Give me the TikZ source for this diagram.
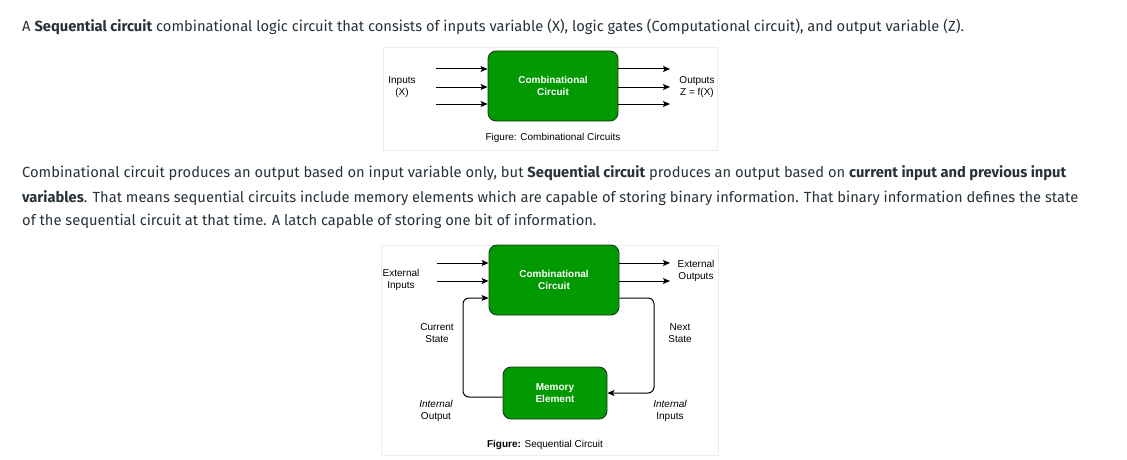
\documentclass[tikz,border=0pt]{standalone}
\usepackage{fontspec}
\setmainfont{Fira Sans}
\newfontfamily\diagfont{Liberation Sans}
\usetikzlibrary{arrows.meta,positioning}

\definecolor{pagetext}{HTML}{273239}
\definecolor{gatefill}{HTML}{009900}
\definecolor{gateline}{HTML}{1E3A1E}

\begin{document}
\begin{tikzpicture}[x=1pt,y=-1pt,>={Stealth[length=7pt,width=6pt,inset=1.5pt]},
  para/.style={anchor=west,inner sep=0pt,text=pagetext,font=\fontsize{14.7}{17}\selectfont},
  gate/.style={draw=gateline,fill=gatefill,rounded corners=8pt,line width=0.9pt,text=white,align=center,font=\diagfont\bfseries\fontsize{10}{12}\selectfont},
  lbl/.style={align=center,inner sep=0pt,font=\diagfont\fontsize{10}{12}\selectfont},
  panel/.style={fill=white,draw=black!7,line width=1pt},
  wire/.style={->,line width=1pt}]

\useasboundingbox (0,0) rectangle (1127,460);

% page text
\node[para] (t1) at (22,27) {A \textbf{Sequential circuit} combinational logic circuit that consists of inputs variable (X), logic gates (Computational circuit), and output variable (Z).};
\node[para] (t2) at (22,173) {Combinational circuit produces an output based on input variable only, but \textbf{Sequential circuit} produces an output based on \textbf{current input and previous input}};
\node[para] (t3) at (22,198) {\textbf{variables}. That means sequential circuits include memory elements which are capable of storing binary information. That binary information defines the state};
\node[para] (t4) at (22,221) {of the sequential circuit at that time. A latch capable of storing one bit of information.};

% figure 1
\draw[panel] (383,48) rectangle (717,150);
\node[gate,minimum width=130pt,minimum height=70pt] (comb1) at (553,86) {Combinational\\Circuit};
\foreach \y [count=\i] in {69,87,104} {
  \coordinate (x\i) at (436,\y);
  \coordinate (z\i) at (670,\y);
  \draw[wire] (x\i) -- (x\i -| comb1.west);
  \draw[wire] (z\i -| comb1.east) -- (z\i);
}
\node[lbl] (inx) at (402,87) {Inputs\\(X)};
\node[lbl] (outz) at (697,87) {Outputs\\Z = f(X)};
\node[lbl] (cap1) at (553,138) {Figure: Combinational Circuits};

% figure 2
\draw[panel] (381,245) rectangle (718,455);
\node[gate,minimum width=130pt,minimum height=70pt] (comb2) at (554,280) {Combinational\\Circuit};
\node[gate,minimum width=104pt,minimum height=52pt] (mem) at (555,393) {Memory\\Element};
\foreach \y [count=\i] in {263,281} {
  \coordinate (ei\i) at (437,\y);
  \coordinate (eo\i) at (670,\y);
  \draw[wire] (ei\i) -- (ei\i -| comb2.west);
  \draw[wire] (eo\i -| comb2.east) -- (eo\i);
}
\coordinate (fbL) at (463,298);
\coordinate (fbR) at (654,298);
\draw[wire,rounded corners=6pt] ([yshift=-4pt]mem.west) -| (fbL) -- (fbL -| comb2.west);
\draw[wire,rounded corners=6pt] (fbR -| comb2.east) -- (fbR) |- (mem.east);

\node[lbl] (extin) at (401,280) {External\\Inputs};
\node[lbl] (extout) at (696,271) {External\\Outputs};
\node[lbl] (cur) at (437,333) {Current\\State};
\node[lbl] (nxt) at (680,333) {Next\\State};
\node[lbl] (intout) at (436,411) {\itshape Internal\\Output};
\node[lbl] (intin) at (670,411) {\itshape Internal\\Inputs};
\node[lbl] (cap2) at (545,445) {\textbf{Figure:} Sequential Circuit};

\end{tikzpicture}
\end{document}
